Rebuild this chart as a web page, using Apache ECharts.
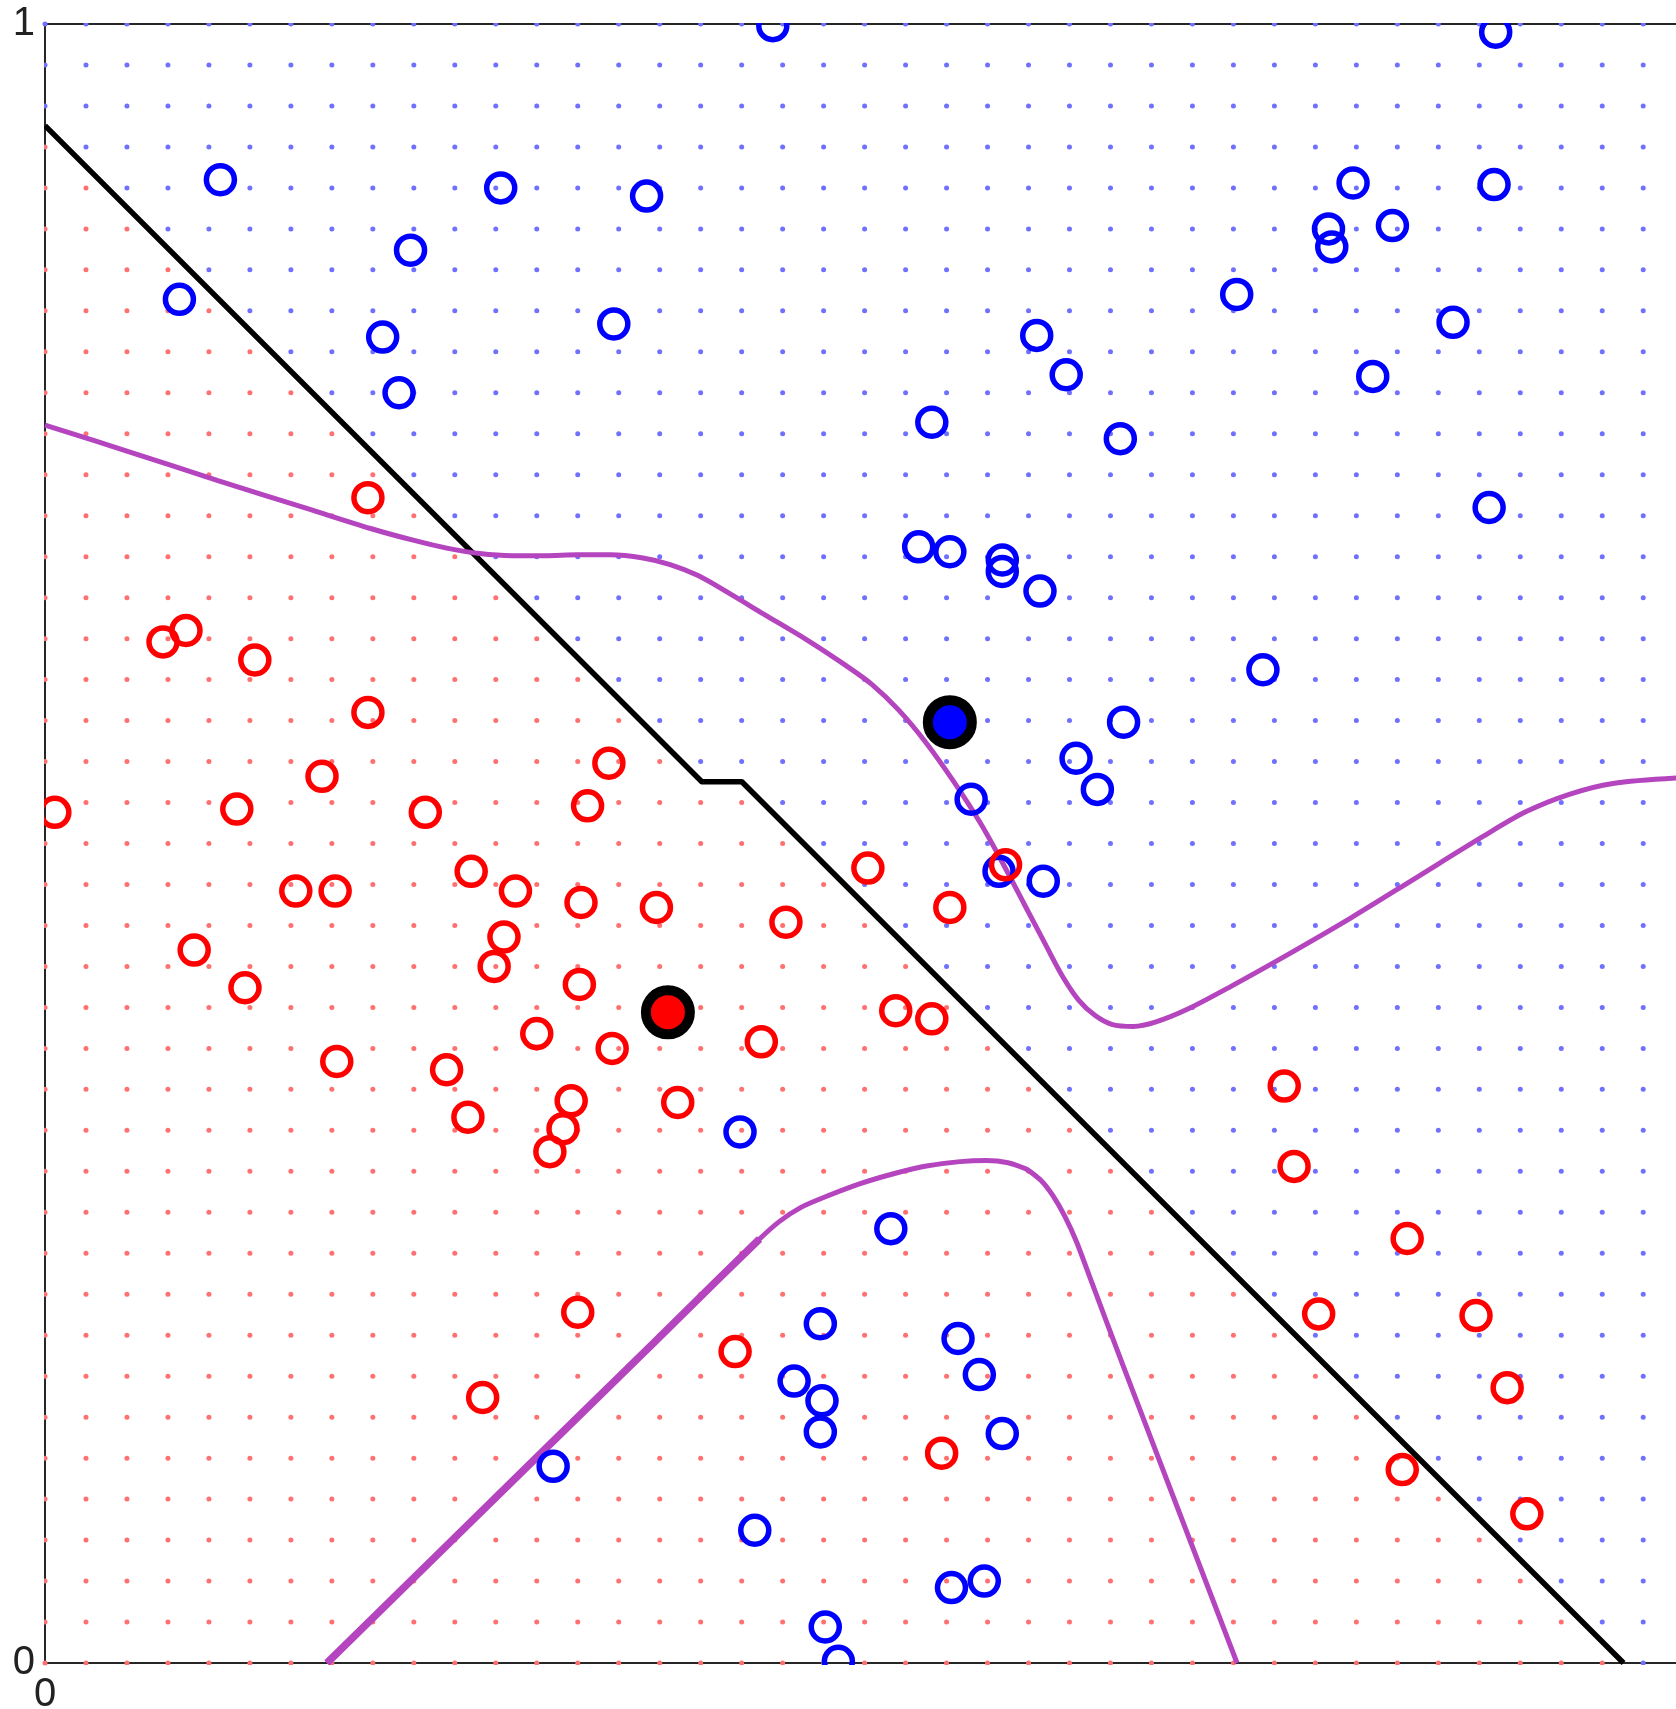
<!DOCTYPE html>
<html>
<head>
<meta charset="utf-8">
<script src="https://cdn.jsdelivr.net/npm/echarts@6/dist/echarts.min.js"></script>
<style>
  html, body { margin: 0; padding: 0; background: #fff; }
  #chart { width: 1676px; height: 1709px; }
</style>
</head>
<body>
<div id="chart"></div>
<script>
// training points, class "blue"
var blueCircles = [
  [0.444, 0.999], [0.885, 0.995], [0.107, 0.905], [0.278, 0.900], [0.367, 0.895],
  [0.798, 0.903], [0.884, 0.902], [0.783, 0.875], [0.822, 0.877], [0.785, 0.864],
  [0.223, 0.862], [0.082, 0.832], [0.727, 0.835], [0.206, 0.809], [0.347, 0.817],
  [0.859, 0.818], [0.605, 0.810], [0.623, 0.786], [0.810, 0.785], [0.216, 0.775],
  [0.541, 0.757], [0.656, 0.747], [0.881, 0.705], [0.533, 0.681], [0.552, 0.678],
  [0.584, 0.673], [0.584, 0.666], [0.607, 0.654], [0.743, 0.606], [0.658, 0.574],
  [0.629, 0.552], [0.642, 0.533], [0.565, 0.527], [0.582, 0.483], [0.609, 0.477],
  [0.424, 0.324], [0.516, 0.265], [0.473, 0.207], [0.557, 0.198], [0.570, 0.176],
  [0.457, 0.172], [0.474, 0.160], [0.473, 0.141], [0.584, 0.140], [0.310, 0.120],
  [0.433, 0.081], [0.553, 0.046], [0.573, 0.050], [0.476, 0.022], [0.484, 0.001]
];

// training points, class "red"
var redCircles = [
  [0.197, 0.711], [0.072, 0.623], [0.086, 0.630], [0.128, 0.612], [0.197, 0.580],
  [0.344, 0.549], [0.169, 0.541], [0.331, 0.523], [0.006, 0.519], [0.117, 0.521],
  [0.232, 0.519], [0.502, 0.485], [0.586, 0.487], [0.260, 0.483], [0.153, 0.471],
  [0.177, 0.471], [0.287, 0.471], [0.327, 0.464], [0.373, 0.461], [0.552, 0.461],
  [0.452, 0.452], [0.091, 0.435], [0.280, 0.443], [0.274, 0.425], [0.122, 0.412],
  [0.326, 0.414], [0.519, 0.398], [0.541, 0.393], [0.300, 0.384], [0.346, 0.375],
  [0.437, 0.379], [0.178, 0.367], [0.245, 0.362], [0.258, 0.333], [0.321, 0.343],
  [0.386, 0.342], [0.316, 0.326], [0.308, 0.312], [0.756, 0.352], [0.762, 0.303],
  [0.831, 0.259], [0.325, 0.214], [0.777, 0.213], [0.873, 0.212], [0.421, 0.190],
  [0.267, 0.162], [0.892, 0.168], [0.547, 0.128], [0.828, 0.118], [0.904, 0.091]
];

var redCentroid = [[0.380, 0.397]];
var blueCentroid = [[0.552, 0.574]];

// classifier boundary (black)
var boundaryLine = [[0, 0.938], [0.4007, 0.5377], [0.4251, 0.5377], [0.963, 0]];

// bayes boundary (purple)
var bayesUpper = [
  [0, 0.7553], [0.0523, 0.7387], [0.1055, 0.7214], [0.1587, 0.7048], [0.1986, 0.6922],
  [0.2252, 0.6849], [0.2451, 0.6802], [0.2651, 0.6769], [0.2850, 0.6756], [0.3050, 0.6756],
  [0.3249, 0.6762], [0.3449, 0.6762], [0.3648, 0.6742], [0.3814, 0.6702], [0.3981, 0.6636],
  [0.4180, 0.6523], [0.4379, 0.6403], [0.4645, 0.6244], [0.4878, 0.6091], [0.5044, 0.5971],
  [0.5210, 0.5812], [0.5377, 0.5612], [0.5543, 0.5379], [0.5709, 0.5120], [0.5842, 0.4881],
  [0.5975, 0.4628], [0.6108, 0.4375], [0.6208, 0.4189], [0.6307, 0.4043], [0.6407, 0.3950],
  [0.6507, 0.3897], [0.6640, 0.3884], [0.6773, 0.3910], [0.6972, 0.3990], [0.7238, 0.4130],
  [0.7571, 0.4316], [0.7970, 0.4548], [0.8369, 0.4794], [0.8768, 0.5040], [0.9033, 0.5193],
  [0.9299, 0.5300], [0.9565, 0.5366], [0.9951, 0.5399]
];
var bayesLower = [
  [0.1720, 0], [0.2385, 0.0652], [0.3050, 0.1304], [0.3715, 0.1955], [0.4114, 0.2348],
  [0.4359, 0.2587], [0.4479, 0.2693], [0.4612, 0.2780], [0.4765, 0.2846], [0.4978, 0.2926],
  [0.5177, 0.2985], [0.5377, 0.3032], [0.5583, 0.3059], [0.5742, 0.3066], [0.5875, 0.3052],
  [0.5988, 0.3012], [0.6075, 0.2946], [0.6148, 0.2853], [0.6221, 0.2726], [0.6294, 0.2567],
  [0.6374, 0.2354], [0.6574, 0.1822], [0.7272, 0]
];

// how many grid dots in each row (bottom to top, step 0.025) fall on the red side
var dotRedCount = [
  39, 38, 37, 36, 35, 34, 33, 32, 31, 30, 29, 28, 27, 26, 25, 24, 23, 22, 21, 20, 19, 18,
  16, 15, 14, 13, 12, 11, 10, 9, 8, 7, 6, 5, 4, 3, 2, 1, 0, 0, 0
];
var dotStep = 0.025;

var redDots = [], blueDots = [];
for (var j = 0; j < dotRedCount.length; j++) {
  for (var i = 0; i < 41; i++) {
    var p = [i * dotStep, j * dotStep];
    if (i < dotRedCount[j]) redDots.push(p); else blueDots.push(p);
  }
}

var chart = echarts.init(document.getElementById('chart'));
var axisColor = '#262626';
var purple = '#b445bf';

function ring(color) {
  return { color: 'rgba(0,0,0,0)', borderColor: color, borderWidth: 5.5, opacity: 1 };
}

var option = {
  animation: false,
  backgroundColor: '#fff',
  grid: { left: 45, right: 0, top: 24, bottom: 46, containLabel: false, outerBoundsMode: 'none' },
  xAxis: [{
    type: 'value', min: 0, max: 0.995, interval: 1, position: 'bottom',
    axisLine: { show: true, onZero: false, lineStyle: { color: axisColor, width: 2 } },
    axisTick: { show: false },
    splitLine: { show: false },
    axisLabel: { fontSize: 40, color: '#222', fontFamily: 'Liberation Sans', margin: 12, showMaxLabel: false }
  }, {
    type: 'value', min: 0, max: 0.995, position: 'top',
    axisLine: { show: true, onZero: false, lineStyle: { color: axisColor, width: 2 } },
    axisTick: { show: false }, splitLine: { show: false }, axisLabel: { show: false }
  }],
  yAxis: {
    type: 'value', min: 0, max: 1, interval: 1,
    axisLine: { show: true, onZero: false, lineStyle: { color: axisColor, width: 2 } },
    axisTick: { show: true, inside: true, length: 16, lineStyle: { color: axisColor, width: 2 } },
    splitLine: { show: false },
    axisLabel: { fontSize: 40, color: '#222', fontFamily: 'Liberation Sans', margin: 10 }
  },
  graphic: [
    { type: 'rect', z: 100, shape: { x: 60, y: 0, width: 1616, height: 23 }, style: { fill: '#fff' } },
    { type: 'rect', z: 100, shape: { x: 70, y: 1665, width: 1606, height: 44 }, style: { fill: '#fff' } },
    { type: 'rect', z: 100, shape: { x: 0, y: 45, width: 44, height: 1595 }, style: { fill: '#fff' } }
  ],
  series: [
    {
      type: 'scatter', data: redDots, symbol: 'circle', symbolSize: 5, z: 1, silent: true,
      itemStyle: { color: '#ff7070', opacity: 1 }
    },
    {
      type: 'scatter', data: blueDots, symbol: 'circle', symbolSize: 5, z: 1, silent: true,
      itemStyle: { color: '#7070ff', opacity: 1 }
    },
    {
      type: 'line', data: boundaryLine, symbol: 'none', z: 2, silent: true,
      lineStyle: { color: '#000', width: 5.5, join: 'round' }
    },
    {
      type: 'line', data: bayesUpper, symbol: 'none', smooth: 0.3, z: 2, silent: true,
      lineStyle: { color: purple, width: 5 }
    },
    {
      type: 'line', data: bayesLower, symbol: 'none', smooth: 0.2, z: 2, silent: true,
      lineStyle: { color: purple, width: 5 }
    },
    {
      type: 'line', data: bayesLower.slice(0, 6), symbol: 'none', z: 2, silent: true,
      lineStyle: { color: purple, width: 7.5 }
    },
    {
      type: 'scatter', data: blueCircles, symbol: 'circle', symbolSize: 28, z: 3, silent: true,
      itemStyle: ring('#0000ff')
    },
    {
      type: 'scatter', data: redCircles, symbol: 'circle', symbolSize: 28, z: 3, silent: true,
      itemStyle: ring('#ff0000')
    },
    {
      type: 'scatter', data: redCentroid, symbol: 'circle', symbolSize: 44, z: 4, silent: true,
      itemStyle: { color: '#ff0000', borderColor: '#000', borderWidth: 10, opacity: 1 }
    },
    {
      type: 'scatter', data: blueCentroid, symbol: 'circle', symbolSize: 44, z: 4, silent: true,
      itemStyle: { color: '#0000ff', borderColor: '#000', borderWidth: 10, opacity: 1 }
    }
  ]
};

chart.setOption(option);
</script>
</body>
</html>
